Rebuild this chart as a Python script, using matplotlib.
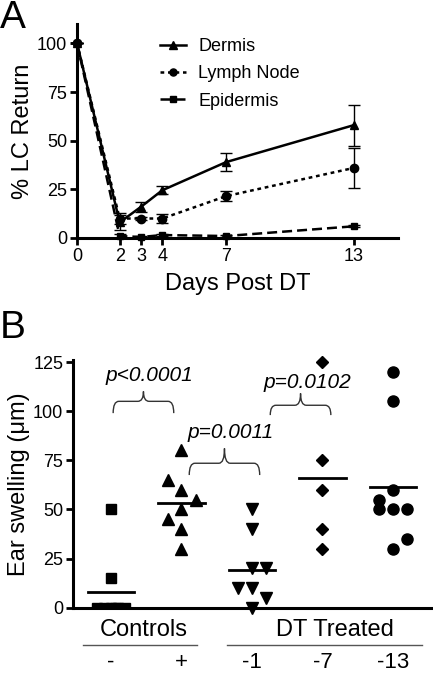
import matplotlib.pyplot as plt
from matplotlib.path import Path
from matplotlib.patches import PathPatch

plt.rcParams['font.family'] = ['Liberation Sans', 'DejaVu Sans']

# ============================
# DATOS - panel A
# ============================
days = [0, 2, 3, 4, 7, 13]

dermis = [100, 8, 16, 24.5, 39, 58]
dermis_err = [0, 4, 2.5, 2, 4.5, 10.5]

lymph = [100, 10, 10, 10, 21.5, 36]
lymph_err = [0, 3, 1, 2.5, 2.5, 10.3]

epidermis = [100, 1, 0.5, 1.5, 1, 6]
epidermis_err = [0, 1, 0.5, 0.5, 0.5, 0.5]

# ============================
# DATOS - panel B
# ============================
group_labels = ["-", "+", "-1", "-7", "-13"]

ctrl_neg = [50, 15, 0, 0, 0, 0, 0, 0]
ctrl_neg_dx = [0, 0, -0.2, -0.1, 0, 0.1, 0.2, 0.05]

ctrl_pos = [80, 65, 60, 55, 50, 45, 40, 30]
ctrl_pos_dx = [0, -0.19, 0, 0.21, 0, -0.19, 0, 0]

dt_1 = [50, 40, 20, 20, 10, 10, 5, 0]
dt_1_dx = [0, 0, 0, 0.2, -0.2, 0, 0.2, 0]

dt_7 = [125, 75, 60, 40, 30]
dt_7_dx = [0, 0, 0, 0, 0]

dt_13 = [120, 105, 60, 55, 50, 50, 50, 35, 30]
dt_13_dx = [0, 0, 0, -0.2, -0.2, 0, 0.2, 0.2, 0]

pvals = ["p<0.0001", "p=0.0011", "p=0.0102"]


def brace(ax, x0, x1, y0, yh, yt, dx=0.08):
    xm = (x0 + x1) / 2
    verts = [(x0, y0), (x0, yh), (x0 + dx, yh), (xm - dx, yh),
             (xm, yh), (xm, yt), (xm, yh), (xm + dx, yh),
             (x1 - dx, yh), (x1, yh), (x1, y0)]
    codes = [Path.MOVETO, Path.CURVE3, Path.CURVE3, Path.LINETO,
             Path.CURVE3, Path.CURVE3, Path.CURVE3, Path.CURVE3,
             Path.LINETO, Path.CURVE3, Path.CURVE3]
    ax.add_patch(PathPatch(Path(verts, codes), fill=False, lw=1.0,
                           edgecolor="#333333", clip_on=False))


fig = plt.figure(figsize=(4.33, 6.73), dpi=100)

# ============================
# PANEL A
# ============================
axA = fig.add_axes([0.178, 0.6464, 0.741, 0.318])

axA.errorbar(days, dermis, yerr=dermis_err, color="black", lw=1.8,
             marker="^", ms=6, capsize=4, elinewidth=1, capthick=1,
             label="Dermis", clip_on=False, zorder=3)
axA.errorbar(days, lymph, yerr=lymph_err, color="black", lw=1.8,
             ls=(0, (1.5, 1.5)), marker="o", ms=6, capsize=4, elinewidth=1,
             capthick=1, label="Lymph Node", clip_on=False, zorder=3)
axA.errorbar(days, epidermis, yerr=epidermis_err, color="black", lw=1.8,
             ls=(0, (4, 2)), marker="s", ms=5, capsize=4, elinewidth=1,
             capthick=1, label="Epidermis", clip_on=False, zorder=3)

axA.set_xlim(0, 15.07)
axA.set_ylim(0, 110)
axA.set_xticks(days)
axA.set_yticks([0, 25, 50, 75, 100])
axA.set_xlabel("Days Post DT", fontsize=17, labelpad=6)
axA.set_ylabel("% LC Return", fontsize=17, labelpad=2)
for s in ["top", "right"]:
    axA.spines[s].set_visible(False)
for s in ["left", "bottom"]:
    axA.spines[s].set_linewidth(2.2)
axA.tick_params(direction="out", length=5, width=2, labelsize=13, pad=2)

handles, labels = axA.get_legend_handles_labels()
handles = [h[0] for h in handles]
axA.legend(handles, labels, loc="upper left", bbox_to_anchor=(0.26, 0.935),
           frameon=False, fontsize=13, handlelength=1.4, handletextpad=0.7,
           labelspacing=0.58, borderpad=0, borderaxespad=0, markerscale=0.85)

fig.text(0.0, 1.0, "A", fontsize=28, va="top", ha="left")

# ============================
# PANEL B
# ============================
axB = fig.add_axes([0.1686, 0.097, 0.8314, 0.368])

groups = [ctrl_neg, ctrl_pos, dt_1, dt_7, dt_13]
offsets = [ctrl_neg_dx, ctrl_pos_dx, dt_1_dx, dt_7_dx, dt_13_dx]
markers = ["s", "^", "v", "D", "o"]
msizes = [7.5, 8.5, 8.5, 6.5, 8]

for i, (vals, dxs) in enumerate(zip(groups, offsets)):
    pos = i + 1
    # los cuadrados en cero quedan recortados por el eje, como en el original
    axB.plot([pos + d for d in dxs], vals, ls="none", marker=markers[i],
             ms=msizes[i], color="black", clip_on=(i == 0), zorder=3)
    mean = sum(vals) / len(vals)
    axB.plot([pos - 0.33, pos + 0.33], [mean, mean], color="black", lw=2,
             zorder=4)

axB.set_xlim(0.46, 5.57)
axB.set_ylim(0, 126)
axB.set_yticks([0, 25, 50, 75, 100, 125])
axB.set_xticks(range(1, 6))
axB.set_xticklabels(group_labels, fontsize=16)
axB.tick_params(axis="x", length=0, pad=32)
axB.tick_params(axis="y", direction="out", length=5, width=2, labelsize=13,
                pad=2)
axB.set_ylabel("Ear swelling (\u03bcm)", fontsize=17, labelpad=2)
for s in ["top", "right"]:
    axB.spines[s].set_visible(False)
for s in ["left", "bottom"]:
    axB.spines[s].set_linewidth(2.2)

# corchetes con valores p
brace(axB, 1.03, 1.89, 99, 105, 110)
brace(axB, 2.11, 3.11, 67.5, 73.5, 81)
brace(axB, 3.26, 4.12, 98, 103, 109)
axB.text(1.55, 118, pvals[0], style="italic", fontsize=15, ha="center",
         va="center")
axB.text(2.7, 89, pvals[1], style="italic", fontsize=15, ha="center",
         va="center")
axB.text(3.78, 114.5, pvals[2], style="italic", fontsize=15, ha="center",
         va="center")

# etiquetas de grupo bajo el eje
tr = axB.get_xaxis_transform()
axB.plot([0.6, 2.22], [-0.15, -0.15], color="#555555", lw=1,
         transform=tr, clip_on=False)
axB.plot([2.65, 5.41], [-0.15, -0.15], color="#555555", lw=1,
         transform=tr, clip_on=False)
axB.text(1.47, -0.09, "Controls", transform=tr, fontsize=17, ha="center",
         va="center")
axB.text(4.18, -0.09, "DT Treated", transform=tr, fontsize=17, ha="center",
         va="center")

fig.text(0.0, 1 - 310 / 673, "B", fontsize=28, va="top", ha="left")

fig.savefig("out.png", dpi=100)
